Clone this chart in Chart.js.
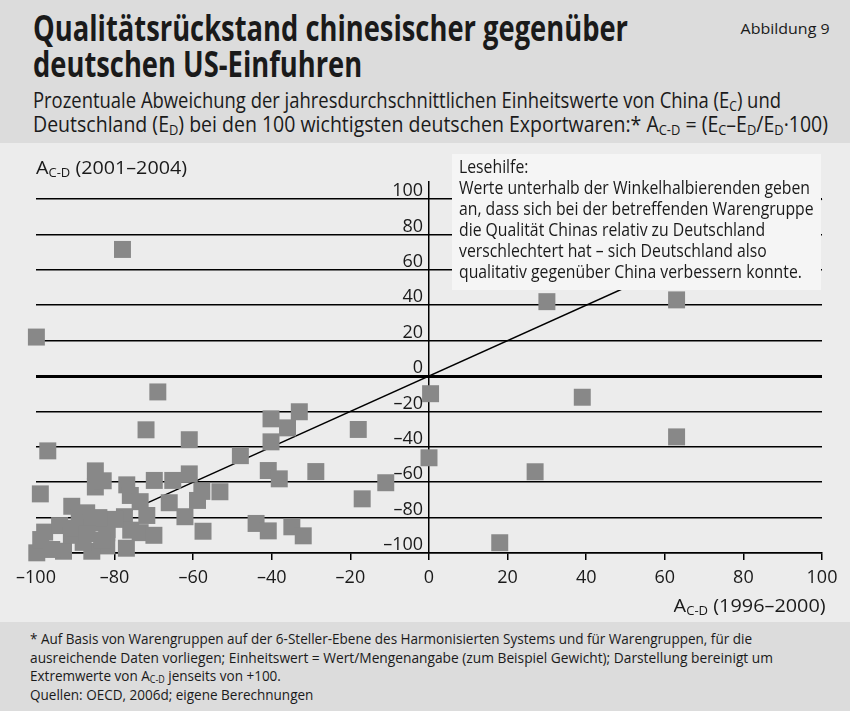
<!DOCTYPE html>
<html><head><meta charset="utf-8">
<script src="https://cdn.jsdelivr.net/npm/chart.js@4.4.1/dist/chart.umd.min.js"></script>
<style>
html,body{margin:0;padding:0;width:850px;height:711px;overflow:hidden;background:#ececec;font-family:'Open Sans',sans-serif;color:#1a1a1a}
#head{position:absolute;left:0;top:0;width:850px;height:143px;background:#dcdcdc}
#panel{position:absolute;left:0;top:143px;width:850px;height:479px;background:#ececec}
#foot{position:absolute;left:0;top:622px;width:850px;height:89px;background:#dcdcdc}
.t{position:absolute;white-space:nowrap;transform-origin:0 50%;display:inline-block}
.r{transform-origin:100% 50%}
.cond{font-family:'Liberation Sans Narrow','Open Sans',sans-serif}
canvas{position:absolute;left:0;top:143px}
#box{position:absolute;left:452px;top:154px;width:369px;height:136px;background:#f5f5f5}
sub{font-size:0.66em;vertical-align:-0.22em;line-height:0}
</style>
</head>
<body>
<div id="head"></div>
<div id="panel"></div>
<div id="foot"></div>
<canvas id="c" width="850" height="479"></canvas>
<div id="box"></div>

<div class="t cond" id="t1" data-w="595" style="left:33px;top:6px;font-size:36px;line-height:43px;font-weight:700">Qualitätsrückstand chinesischer gegenüber</div>
<div class="t cond" data-g="t1" style="left:33px;top:42px;font-size:36px;line-height:43px;font-weight:700">deutschen US-Einfuhren</div>
<div class="t r" data-w="89" style="right:20px;top:19px;font-size:15px;line-height:18px">Abbildung 9</div>

<div class="t cond" id="s1" data-w="748" style="left:33px;top:88px;font-size:21px;line-height:25px">Prozentuale Abweichung der jahresdurchschnittlichen Einheitswerte von China (E<sub>C</sub>) und</div>
<div class="t cond" data-w="795" style="left:33px;top:112px;font-size:21px;line-height:25px">Deutschland (E<sub>D</sub>) bei den 100 wichtigsten deutschen Exportwaren:* A<sub>C-D</sub> = (E<sub>C</sub>–E<sub>D</sub>/E<sub>D</sub>·100)</div>

<div class="t" data-w="151" style="left:36px;top:156px;font-size:19px;line-height:23px">A<sub>C-D</sub> (2001–2004)</div>
<div class="t r" data-w="152" style="right:24px;top:594px;font-size:19px;line-height:23px">A<sub>C-D</sub> (1996–2000)</div>

<div class="t" data-g="b2" style="left:459px;top:156px;font-size:18px;line-height:21px">Lesehilfe:</div>
<div class="t" id="b2" data-w="351" style="left:459px;top:177px;font-size:18px;line-height:21px">Werte unterhalb der Winkelhalbierenden geben</div>
<div class="t" data-g="b2" style="left:459px;top:198px;font-size:18px;line-height:21px">an, dass sich bei der betreffenden Warengruppe</div>
<div class="t" data-g="b2" style="left:459px;top:219px;font-size:18px;line-height:21px">die Qualität Chinas relativ zu Deutschland</div>
<div class="t" data-g="b2" style="left:459px;top:240px;font-size:18px;line-height:21px">verschlechtert hat – sich Deutschland also</div>
<div class="t" data-g="b2" style="left:459px;top:261px;font-size:18px;line-height:21px">qualitativ gegenüber China verbessern konnte.</div>

<div class="t cond" id="f1" data-w="722" style="left:30px;top:629px;font-size:15px;line-height:18px">* Auf Basis von Warengruppen auf der 6-Steller-Ebene des Harmonisierten Systems und für Warengruppen, für die</div>
<div class="t cond" data-w="743" style="left:30px;top:648px;font-size:15px;line-height:18px">ausreichende Daten vorliegen; Einheitswert = Wert/Mengenangabe (zum Beispiel Gewicht); Darstellung bereinigt um</div>
<div class="t cond" data-g="f1" style="left:30px;top:666px;font-size:15px;line-height:18px">Extremwerte von A<sub>C-D</sub> jenseits von +100.</div>
<div class="t cond" data-g="f1" style="left:30px;top:685px;font-size:15px;line-height:18px">Quellen: OECD, 2006d; eigene Berechnungen</div>

<script>
// A_C-D 1996–2000 (x) and A_C-D 2001–2004 (y) per product group
const xValues = [-78, -99.9, 30, 63, -69, 0.4, 39, -72, -61, -97, -48, -40.2, -33, -36, -40.2, -18, 63, 0, -40.9, -38.1,
  -28.8, -11, -17, 27, 18, -61, -57.8, -53.2, -58.9, -62.1, -57.5, -44, -40.9, -34.9, -32, -65.2, -69.9, -66.1, -76.9, -76,
  -73.5, -84.9, -84.9, -82.9, -98.9, -71.8, -77.5, -75.9, -73.5, -70, -77, -82, -82, -90.9, -87.1, -99.8, -93, -85.8, -98.8, -97.8,
  -94, -81.9, -80, -83.3, -89, -86, -91, -88, -84, -96, -90, -87];
const yValues = [71.5, 22, 42, 43, -9, -10, -12, -30.4, -36, -42.3, -45, -24.2, -20.2, -29.3, -37.2, -30.2, -34.4, -46.2, -53.4, -58.1,
  -54, -60.3, -69.4, -54.1, -94.2, -55.3, -65.2, -65.4, -70.3, -79.5, -87.7, -83.3, -87.5, -85.2, -90.3, -59, -59, -71.6, -61.5, -67.5,
  -71, -53.6, -62.7, -59.2, -66.6, -78.8, -79.5, -87.1, -88.5, -90, -97.3, -88.6, -96, -73.6, -77.3, -99.9, -99, -99, -92.4, -88.2,
  -84.5, -86.7, -81, -92.8, -80, -83, -90, -94, -80, -98, -86, -89];
// bisector (Winkelhalbierende)
const diagX = [-80, 100];
const diagY = [-80, 100];
const xTicks = [-100, -80, -60, -40, -20, 0, 20, 40, 60, 80, 100];
const yTicks = [-100, -80, -60, -40, -20, 0, 20, 40, 60, 80, 100];

const fmt = v => (v < 0 ? '\u2013' + Math.abs(v) : String(v));
const tickFont = {family: "'Open Sans', sans-serif", size: 18};

new Chart(document.getElementById('c'), {
  data: {
    datasets: [
      {
        type: 'scatter',
        data: xValues.map((x, i) => ({x, y: yValues[i]})),
        pointStyle: 'rect',
        pointRadius: 12,
        pointHoverRadius: 12,
        backgroundColor: '#888888',
        borderWidth: 0,
        clip: false,
        order: 1
      },
      {
        type: 'line',
        data: diagX.map((x, i) => ({x, y: diagY[i]})),
        borderColor: '#000',
        borderWidth: 1.4,
        pointRadius: 0,
        fill: false,
        clip: false,
        order: 2
      }
    ]
  },
  options: {
    responsive: false,
    animation: false,
    devicePixelRatio: 1,
    layout: {padding: {left: 36, right: 28, top: 38.3, bottom: 29}},
    plugins: {legend: {display: false}, tooltip: {enabled: false}, title: {display: false}},
    scales: {
      x: {
        type: 'linear', position: 'bottom', min: -100, max: 100,
        afterBuildTicks: s => { s.ticks = xTicks.map(v => ({value: v})); },
        afterFit: s => { s.height = 40; },
        grid: {drawOnChartArea: false, drawTicks: true, tickLength: 7, color: '#000', lineWidth: 1.5},
        border: {display: true, color: '#000', width: 1.5},
        ticks: {font: tickFont, color: '#1a1a1a', padding: 7, maxRotation: 0, autoSkip: false, callback: v => fmt(v)}
      },
      y: {
        type: 'linear', position: {x: 0}, min: -100, max: 110,
        afterBuildTicks: s => { s.ticks = yTicks.map(v => ({value: v})); },
        grid: {drawTicks: false, color: '#000', lineWidth: c => (c.tick && c.tick.value === 0 ? 3 : 1.5)},
        border: {display: true, color: '#000', width: 1.5},
        ticks: {font: tickFont, color: '#1a1a1a', padding: 6, labelOffset: -8, autoSkip: false, callback: v => fmt(v) + '\u2009\u2009'}
      }
    }
  }
});

function fit() {
  document.querySelectorAll('[data-w]').forEach(el => {
    el.style.transform = 'none';
    const w = el.getBoundingClientRect().width;
    el.style.transform = 'scaleX(' + (+el.dataset.w / w) + ')';
  });
  document.querySelectorAll('[data-g]').forEach(el => {
    el.style.transform = document.getElementById(el.dataset.g).style.transform;
  });
}
fit();
if (document.fonts && document.fonts.ready) document.fonts.ready.then(fit);
</script>
</body></html>
